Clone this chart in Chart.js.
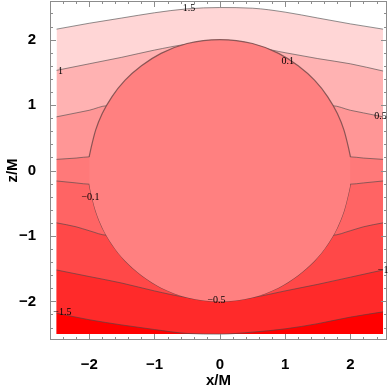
<!DOCTYPE html>
<html>
<head>
<meta charset="utf-8">
<script src="https://cdn.jsdelivr.net/npm/chart.js@4.4.1/dist/chart.umd.min.js"></script>
<style>
  html, body { margin: 0; padding: 0; background: #fff; }
  #wrap { width: 390px; height: 388px; }
</style>
</head>
<body>
<div id="wrap"><canvas id="plot" width="390" height="388"></canvas></div>
<script>
// contour lines (x/M, z/M)
const x15 = [-2.5, -2, -1.5, -1, -0.5, 0, 0.5, 1, 1.5, 2, 2.5];
const z15 = [2.16, 2.25, 2.33, 2.41, 2.47, 2.49, 2.48, 2.42, 2.33, 2.24, 2.16];

const x10 = [-2.5, -2, -1.5, -1, -0.5, 0, 0.5, 0.8, 1, 1.5, 2, 2.5];
const z10 = [1.53, 1.63, 1.73, 1.84, 1.93, 1.97, 1.92, 1.84, 1.80, 1.71, 1.63, 1.52];

const x05 = [-2.5, -2.2, -2, -1.72, 0, 1.72, 2, 2.2, 2.5];
const z05 = [0.82, 0.88, 0.92, 0.99, 0.99, 0.99, 0.92, 0.88, 0.82];

const x01 = [-2.5, -2.2, -1.98, 0, 1.98, 2.2, 2.5];
const z01 = [0.17, 0.19, 0.21, 0.21, 0.21, 0.19, 0.17];

const xm01 = [-2.5, -2.2, -1.98, 0, 1.98, 2.2, 2.5];
const zm01 = [-0.16, -0.19, -0.21, -0.21, -0.21, -0.19, -0.16];

const xm05 = [-2.5, -2.2, -2, -1.72, 0, 1.72, 2, 2.2, 2.5];
const zm05 = [-0.80, -0.86, -0.92, -0.99, -0.99, -0.99, -0.92, -0.86, -0.80];

const xm10 = [-2.5, -2, -1.5, -1, -0.5, 0, 0.5, 1, 1.5, 2, 2.5];
const zm10 = [-1.52, -1.62, -1.72, -1.84, -1.94, -1.98, -1.94, -1.84, -1.74, -1.63, -1.52];

const xm15 = [-2.5, -2, -1.5, -1, -0.5, 0, 0.5, 1, 1.5, 2, 2.5];
const zm15 = [-2.18, -2.28, -2.36, -2.43, -2.49, -2.5, -2.47, -2.42, -2.34, -2.24, -2.16];

// the disc in the middle (upper and lower edge)
const xDisc = [-2.0, -1.97, -1.9, -1.8, -1.65, -1.45, -1.2, -0.9, -0.5, 0, 0.5, 0.9, 1.2, 1.45, 1.65, 1.8, 1.9, 1.97, 2.0];
const zDiscTop = [0.21, 0.35, 0.62, 0.87, 1.13, 1.38, 1.6, 1.79, 1.94, 2.0, 1.94, 1.79, 1.6, 1.38, 1.13, 0.87, 0.62, 0.35, 0.21];
const zDiscBot = [-0.21, -0.35, -0.62, -0.87, -1.13, -1.38, -1.6, -1.79, -1.94, -2.0, -1.94, -1.79, -1.6, -1.38, -1.13, -0.87, -0.62, -0.35, -0.21];

// contour labels
const labelText = ['1.5', '1', '0.1', '0.5', '\u22120.1', '\u22120.5', '\u22121', '\u22121.5'];
const labelX = [-0.47, -2.44, 1.04, 2.46, -1.98, -0.05, 2.5, -2.41];
const labelZ = [2.48, 1.52, 1.67, 0.82, -0.41, -1.99, -1.52, -2.17];

const xTicks = [-2, -1, 0, 1, 2];
const yTicks = [-2, -1, 0, 1, 2];

const BOTTOM = -2.5;
const lineCol = 'rgba(70,70,70,0.6)';

const pts = (xs, zs) => xs.map((x, i) => ({ x: x, y: zs[i] }));

const band = (xs, zs, color, order) => ({
  data: pts(xs, zs),
  borderColor: lineCol,
  borderWidth: 1,
  backgroundColor: color,
  fill: { value: BOTTOM },
  pointRadius: 0,
  cubicInterpolationMode: 'monotone',
  order: order
});

const fmt = (v) => v < 0 ? '\u2212' + Math.abs(v) : String(v);

// no extra room for labels at the scale ends
const noPad = (s) => { s.paddingTop = 0; s.paddingBottom = 0; s.paddingLeft = 0; s.paddingRight = 0; };

// frame with inward ticks + contour labels
const framePlugin = {
  id: 'frame',
  afterDatasetsDraw(chart) {
    const { ctx, chartArea: a, scales: { x, y } } = chart;
    ctx.save();
    ctx.strokeStyle = '#8c8c8c';
    ctx.lineWidth = 1;
    ctx.strokeRect(a.left + 0.5, a.top + 0.5, a.right - a.left - 1, a.bottom - a.top - 1);
    ctx.beginPath();
    for (let k = -13; k <= 13; k++) {
      const v = k / 5;
      const major = k % 5 === 0;
      const len = major ? 6 : 3;
      if (v >= x.min && v <= x.max) {
        const px = Math.round(x.getPixelForValue(v)) + 0.5;
        ctx.moveTo(px, a.bottom); ctx.lineTo(px, a.bottom - len);
        ctx.moveTo(px, a.top); ctx.lineTo(px, a.top + len);
      }
      if (v >= y.min && v <= y.max) {
        const py = Math.round(y.getPixelForValue(v)) + 0.5;
        ctx.moveTo(a.left, py); ctx.lineTo(a.left + len, py);
        ctx.moveTo(a.right, py); ctx.lineTo(a.right - len, py);
      }
    }
    ctx.stroke();

    ctx.fillStyle = '#000';
    ctx.font = '10px "Liberation Serif", "DejaVu Serif", serif';
    ctx.textAlign = 'center';
    ctx.textBaseline = 'middle';
    labelText.forEach((t, i) => {
      ctx.fillText(t, x.getPixelForValue(labelX[i]), y.getPixelForValue(labelZ[i]));
    });
    ctx.restore();
  }
};

const tickFont = { family: '"Liberation Sans", Arial, sans-serif', size: 15, weight: 'bold' };
const titleFont = { family: '"Liberation Sans", Arial, sans-serif', size: 15, weight: 'bold', lineHeight: 1 };

new Chart(document.getElementById('plot').getContext('2d'), {
  type: 'line',
  data: {
    datasets: [
      {
        data: pts(xDisc, zDiscTop),
        borderColor: 'rgba(110,70,70,0.8)',
        borderWidth: 1.2,
        backgroundColor: '#ff8080',
        fill: 1,
        pointRadius: 0,
        cubicInterpolationMode: 'monotone',
        order: 0
      },
      {
        data: pts(xDisc, zDiscBot),
        borderColor: 'rgba(110,70,70,0.8)',
        borderWidth: 1.2,
        fill: false,
        pointRadius: 0,
        cubicInterpolationMode: 'monotone',
        order: 0
      },
      band(xm15, zm15, '#ff0000', 1),
      band(xm10, zm10, '#ff2a2a', 2),
      band(xm05, zm05, '#ff4848', 3),
      band(xm01, zm01, '#ff6464', 4),
      band(x01, z01, '#ff7979', 5),
      band(x05, z05, '#ff9696', 6),
      band(x10, z10, '#ffb2b2', 7),
      band(x15, z15, '#ffd6d6', 8)
    ]
  },
  options: {
    responsive: false,
    devicePixelRatio: 1,
    animation: false,
    layout: { padding: { top: 1, right: 3, left: 0, bottom: 0 } },
    plugins: { legend: { display: false }, tooltip: { enabled: false } },
    scales: {
      x: {
        type: 'linear',
        min: -2.6,
        max: 2.56,
        grid: { display: false },
        border: { display: false },
        afterBuildTicks: (s) => { s.ticks = xTicks.map(v => ({ value: v })); },
        afterFit: (s) => { s.height = 48; noPad(s); },
        ticks: { color: '#000', font: tickFont, padding: 8, callback: fmt },
        title: { display: true, text: 'x/M', color: '#000', font: titleFont, padding: { top: 0, bottom: 0 } }
      },
      y: {
        type: 'linear',
        min: -2.59,
        max: 2.59,
        grid: { display: false },
        border: { display: false },
        afterBuildTicks: (s) => { s.ticks = yTicks.map(v => ({ value: v })); },
        afterFit: (s) => { s.width = 50; noPad(s); },
        ticks: { color: '#000', font: tickFont, padding: 6, callback: fmt },
        title: { display: true, text: 'z/M', color: '#000', font: titleFont, padding: { top: 5, bottom: 0 } }
      }
    }
  },
  plugins: [framePlugin]
});
</script>
</body>
</html>
